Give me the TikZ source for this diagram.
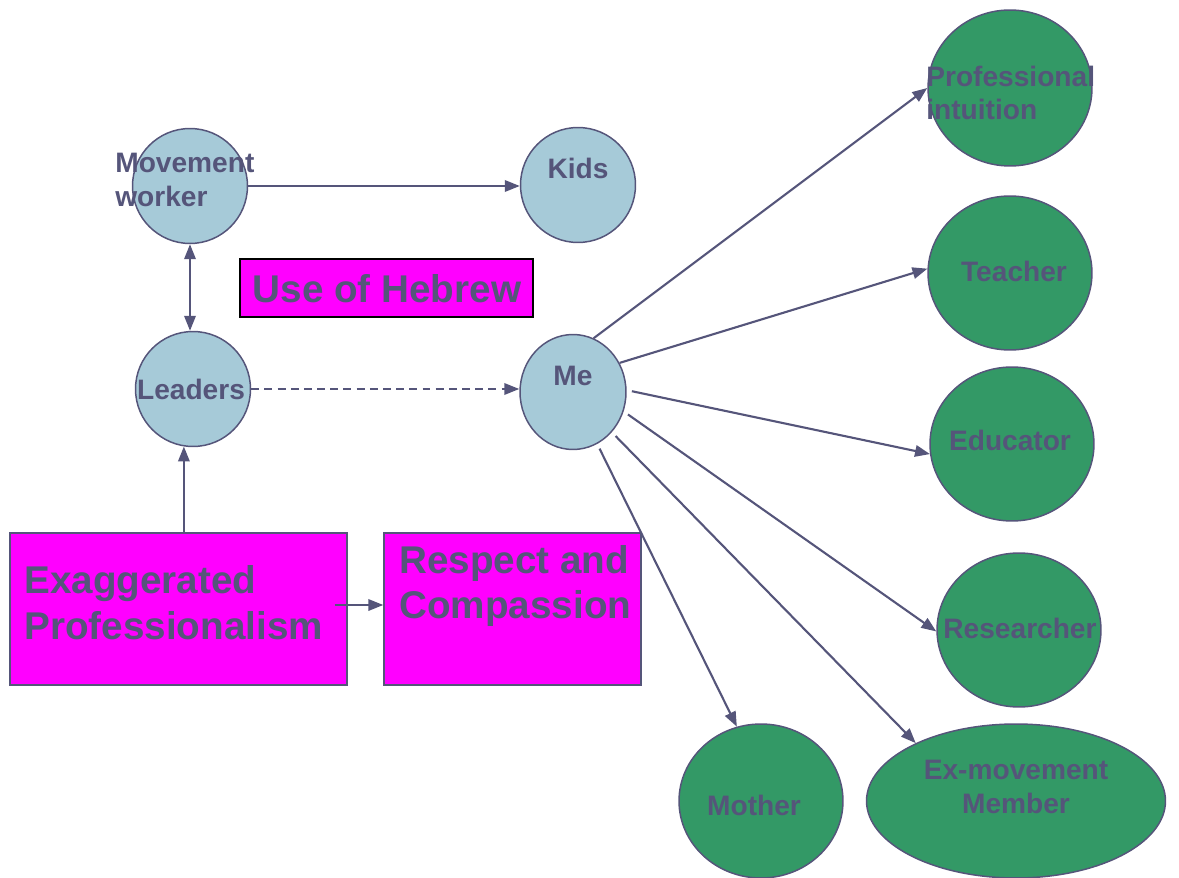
\documentclass[tikz,border=0pt]{standalone}
\usepackage{fontspec}
\setmainfont{Liberation Sans}
\usetikzlibrary{shapes.geometric,arrows.meta}
\definecolor{slate}{HTML}{55557A}
\definecolor{paleblue}{HTML}{A6CAD8}
\definecolor{leafgreen}{HTML}{339966}
\definecolor{pink}{HTML}{FF00FF}

\begin{document}
\begin{tikzpicture}[x=0.02cm,y=-0.02cm,
	>={Triangle[length=8.5pt,width=6.5pt]},
	bluenode/.style={ellipse,draw=slate,line width=0.85pt,fill=paleblue,inner sep=0pt,minimum width=2.3cm,minimum height=2.3cm},
	greennode/.style={ellipse,draw=slate,line width=0.85pt,fill=leafgreen,inner sep=0pt,minimum width=3.28cm,minimum height=3.08cm},
	pinkbox/.style={rectangle,draw=slate,line width=0.85pt,fill=pink,inner sep=0pt,minimum height=3.04cm},
	lbl/.style={text=slate,font=\fontsize{16}{19}\selectfont\bfseries,inner sep=0pt,align=left},
	biglbl/.style={text=slate,font=\fontsize{22}{26}\selectfont\bfseries,inner sep=0pt,align=left},
	link/.style={draw=slate,line width=1.2pt,->}]
			\useasboundingbox (0,0) rectangle (1179,878);
			% light blue circles
			\node[bluenode] (worker) at (190,186) {};
			\node[bluenode] (kids) at (578,185) {};
			\node[bluenode] (leaders) at (193,389) {};
			\node[bluenode,minimum width=2.12cm] (me) at (573,392) {};
			% pink boxes
			\node[pinkbox,draw=black,line width=1.5pt,minimum width=5.86cm,minimum height=1.16cm] (hebrew) at (386.5,288) {};
			\node[pinkbox,minimum width=6.74cm] (exag) at (178.5,609) {};
			\node[pinkbox,minimum width=5.14cm] (respect) at (512.5,609) {};
			% green roles
			\node[greennode,minimum height=3.12cm] (pro) at (1010,88) {};
			\node[greennode] (teacher) at (1010,273) {};
			\node[greennode] (educator) at (1012,444) {};
			\node[greennode] (researcher) at (1019,630) {};
			\node[greennode] (mother) at (761,801) {};
			\node[greennode,minimum width=5.98cm] (exmember) at (1016,801) {};
			% connectors
			\draw[link] (worker) -- (worker -| kids.west);
			\draw[link,<->] (worker.south) -- (worker.south |- leaders.north);
			\draw[link,dash pattern=on 4.5pt off 3pt] (leaders) -- (leaders -| me.west);
			\draw[link] (exag.north -| leaders.261) -- (leaders.261);
			\draw[link] ([shift={(-13,-4)}]exag.east) coordinate (ep) -- (ep -| respect.west);
			\draw[link] (me.69) -- (pro.180);
			\draw[link] (me.32) -- (teacher.177);
			\draw[link,shorten <=3pt] (me.2) -- (educator.187);
			\draw[link,shorten <=3pt] (me.-21) -- (researcher.181);
			\draw[link,shorten <=3pt] (me.-46) -- (exmember.150);
			\draw[link,shorten <=3pt] (me.-65) -- (mother.108);
			% texts
			\node[lbl,anchor=west] (workerlbl) at (115,180) {Movement\\worker};
			\node[lbl] (kidslbl) at (578,168) {Kids};
			\node[lbl] (leaderslbl) at (191,389) {Leaders};
			\node[lbl] (melbl) at (573,376) {Me};
			\node[biglbl] (hebrewlbl) at (387,289) {Use of Hebrew};
			\node[biglbl,anchor=west] (exaglbl) at (24,603) {Exaggerated\\Professionalism};
			\node[biglbl,anchor=west] (respectlbl) at (399,586) {Respect and\\Compassion};
			\node[lbl,anchor=west] (prolbl) at (926,93) {Professional\\intuition};
			\node[lbl] (teacherlbl) at (1014,271) {Teacher};
			\node[lbl] (educatorlbl) at (1010,440) {Educator};
			\node[lbl] (researcherlbl) at (1020,628) {Researcher};
			\node[lbl] (motherlbl) at (754,805) {Mother};
			\node[lbl,align=center] (exlbl) at (1016,787) {Ex-movement\\Member};
	\end{tikzpicture}
\end{document}
